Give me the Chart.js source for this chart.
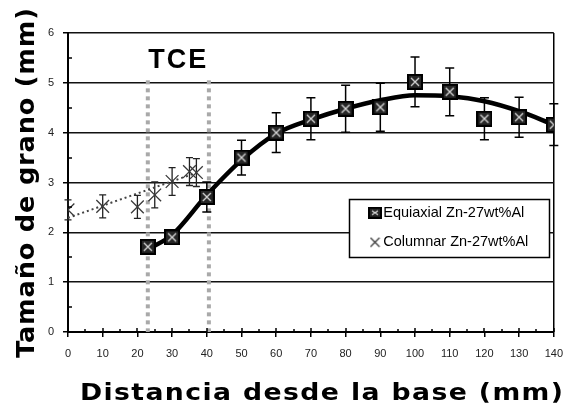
<!DOCTYPE html>
<html><head><meta charset="utf-8">
<script src="https://cdn.jsdelivr.net/npm/chart.js@4/dist/chart.umd.min.js"></script>
<style>html,body{margin:0;padding:0;background:#fff}#wrap{width:573px;height:408px}</style>
</head><body><div id="wrap"><canvas id="c" width="573" height="408"></canvas></div>
<script>
// ---- data ----
const equiX   = [23, 30, 40, 50, 60, 70, 80, 90, 100, 110, 120, 130, 140];
const equiY   = [1.71, 1.90, 2.71, 3.50, 4.00, 4.28, 4.48, 4.51, 5.02, 4.82, 4.28, 4.31, 4.16];
const equiErr = [0.10, 0.10, 0.30, 0.35, 0.40, 0.42, 0.47, 0.48, 0.50, 0.48, 0.42, 0.40, 0.42];
const colX    = [0, 10, 20, 25, 30, 35, 37];
const colY    = [2.45, 2.52, 2.51, 2.75, 3.02, 3.22, 3.20];
const colErr  = [0.20, 0.23, 0.23, 0.26, 0.28, 0.28, 0.28];
const equiTrendX = [23, 30, 40, 50, 60, 70, 80, 90, 100, 110, 120, 130, 140];
const equiTrendY = [1.66, 1.95, 2.75, 3.45, 3.98, 4.26, 4.48, 4.65, 4.75, 4.73, 4.63, 4.43, 4.16];
const colTrendX = [0, 38];
const colTrendY = [2.29, 3.22];
const tceX = [23, 40.6];
const xTicks = [0, 10, 20, 30, 40, 50, 60, 70, 80, 90, 100, 110, 120, 130, 140];
const xMinor = [5, 15, 25, 35, 45, 55, 65, 75, 85, 95, 105, 115, 125, 135];
const yTicks = [0, 1, 2, 3, 4, 5, 6];
const yMinor = [0.5, 1.5, 2.5, 3.5, 4.5, 5.5];
const labels = ['Equiaxial Zn-27wt%Al', 'Columnar Zn-27wt%Al'];
const xTitle = 'Distancia desde la base (mm)';
const yTitle = 'Tamaño de grano (mm)';
const tceLabel = 'TCE';

const pts = (xs, ys) => xs.map((x, i) => ({x: x, y: ys[i]}));

function equiMarker(w, h) {
  const c = document.createElement('canvas'); c.width = w; c.height = h;
  const g = c.getContext('2d');
  g.fillStyle = '#000'; g.fillRect(0, 0, w, h);
  g.fillStyle = '#262626'; g.fillRect(2, 2, w - 4, h - 4);
  g.strokeStyle = '#d8d8d8'; g.lineWidth = 1.3;
  g.beginPath(); g.moveTo(4, 4); g.lineTo(w - 4, h - 4); g.moveTo(w - 4, 4); g.lineTo(4, h - 4); g.stroke();
  return c;
}
function colMarker(s) {
  const c = document.createElement('canvas'); c.width = s; c.height = s;
  const g = c.getContext('2d');
  g.strokeStyle = '#333'; g.lineWidth = 1.2;
  g.beginPath(); g.moveTo(1, 1); g.lineTo(s - 1, s - 1); g.moveTo(s - 1, 1); g.lineTo(1, s - 1); g.stroke();
  return c;
}
const equiImg = equiMarker(16, 16);
const equiLegImg = equiMarker(14, 12);
const colLegImg = colMarker(11);

// draws a heavy title stretched to a target length
function wideText(ctx, text, cx, cy, rot, size, spacing, target) {
  ctx.save();
  ctx.font = 'bold ' + size + 'px "DejaVu Sans", sans-serif';
  ctx.letterSpacing = spacing + 'px';
  ctx.textAlign = 'center'; ctx.textBaseline = 'alphabetic';
  const w = ctx.measureText(text).width - spacing;
  ctx.translate(cx, cy); ctx.rotate(rot);
  ctx.scale(target / w, 1);
  ctx.fillText(text, spacing / 2, 0);
  ctx.restore();
}

const decor = {
  id: 'decor',
  afterLayout(chart) {
    const lg = chart.legend;
    if (!lg) return;
    lg.left = 359; lg.top = 190.5; lg.right = 550; lg.bottom = 300;
    lg.width = lg.right - lg.left; lg.height = lg.bottom - lg.top;
    if (!lg._patched) {
      const orig = lg.draw.bind(lg);
      lg.draw = function (area) {
        const ctx = chart.ctx;
        ctx.save();
        ctx.fillStyle = '#fff'; ctx.fillRect(349, 199, 201, 59);
        ctx.strokeStyle = '#000'; ctx.lineWidth = 1.5; ctx.strokeRect(349.5, 199.5, 200, 58);
        ctx.restore();
        orig(area);
      };
      lg._patched = true;
    }
  },
  beforeDatasetsDraw(chart) {
    const {ctx, scales: {x, y}} = chart;
    ctx.save();
    // TCE dotted lines
    ctx.strokeStyle = '#a9a9a9'; ctx.lineWidth = 4; ctx.setLineDash([4, 4]);
    tceX.forEach(v => {
      const px = x.getPixelForValue(v);
      ctx.beginPath(); ctx.moveTo(px, y.getPixelForValue(5.05)); ctx.lineTo(px, y.getPixelForValue(0)); ctx.stroke();
    });
    ctx.setLineDash([]);
    // error bars
    const bars = (xs, ys, es, cap, col, lw) => {
      ctx.strokeStyle = col; ctx.lineWidth = lw;
      xs.forEach((v, i) => {
        const px = x.getPixelForValue(v);
        const t = y.getPixelForValue(ys[i] + es[i]), b = y.getPixelForValue(ys[i] - es[i]);
        ctx.beginPath();
        ctx.moveTo(px, t); ctx.lineTo(px, b);
        ctx.moveTo(px - cap, t); ctx.lineTo(px + cap, t);
        ctx.moveTo(px - cap, b); ctx.lineTo(px + cap, b);
        ctx.stroke();
      });
    };
    bars(equiX, equiY, equiErr, 4.5, '#000', 1.5);
    bars(colX, colY, colErr, 3.5, '#222', 1.3);
    ctx.restore();
  },
  afterDraw(chart) {
    const {ctx, scales: {x, y}} = chart;
    ctx.save();
    // inner major/minor ticks
    ctx.strokeStyle = '#000'; ctx.lineWidth = 1.5;
    const ax = y.getPixelForValue(0);
    const ay = x.getPixelForValue(0);
    ctx.beginPath();
    xTicks.forEach(v => { const p = Math.round(x.getPixelForValue(v)); ctx.moveTo(p, ax); ctx.lineTo(p, ax - 4); });
    xMinor.forEach(v => { const p = Math.round(x.getPixelForValue(v)); ctx.moveTo(p, ax); ctx.lineTo(p, ax - 3); });
    yMinor.forEach(v => { const p = Math.round(y.getPixelForValue(v)); ctx.moveTo(ay, p); ctx.lineTo(ay + 4, p); });
    ctx.stroke();
    // TCE label
    ctx.fillStyle = '#000';
    ctx.font = 'bold 27px "Liberation Sans", Arial, sans-serif';
    ctx.letterSpacing = '2px';
    ctx.textAlign = 'center'; ctx.textBaseline = 'alphabetic';
    ctx.fillText(tceLabel, x.getPixelForValue((tceX[0] + tceX[1]) / 2), 68);
    ctx.restore();
    // axis titles
    ctx.save();
    ctx.fillStyle = '#000';
    wideText(ctx, xTitle, 321.5, 400, 0, 23, 1.2, 483);
    wideText(ctx, yTitle, 34, 183, -Math.PI / 2, 24, 0.8, 350);
    ctx.restore();
  }
};

new Chart(document.getElementById('c'), {
  type: 'scatter',
  plugins: [decor],
  data: {
    datasets: [
      {label: labels[0], data: pts(equiX, equiY), pointStyle: equiImg, pointRadius: 8, showLine: false,
       backgroundColor: '#000', borderColor: '#000'},
      {label: labels[1], data: pts(colX, colY), pointStyle: 'crossRot', pointRadius: 9, pointBorderWidth: 1.3,
       showLine: false, borderColor: '#3a3a3a', backgroundColor: '#3a3a3a'},
      {label: '', data: pts(equiTrendX, equiTrendY), showLine: true, pointRadius: 0, borderColor: '#000',
       borderWidth: 4.5, cubicInterpolationMode: 'monotone', fill: false},
      {label: '', data: pts(colTrendX, colTrendY), showLine: true, pointRadius: 0, borderColor: '#444',
       borderWidth: 2, borderDash: [2, 3], fill: false}
    ]
  },
  options: {
    responsive: false, animation: false, devicePixelRatio: 1,
    layout: {padding: {left: 0, right: 11, top: 33, bottom: 0}},
    plugins: {
      tooltip: {enabled: false},
      legend: {
        position: 'chartArea', align: 'start',
        labels: {
          usePointStyle: true, pointStyleWidth: 2, boxHeight: 10, padding: 15,
          color: '#000', font: {family: '"Liberation Sans", Arial, sans-serif', size: 14.5},
          filter: item => item.text !== '',
          generateLabels(chart) {
            const items = Chart.defaults.plugins.legend.labels.generateLabels(chart);
            items.forEach(it => { it.pointStyle = it.datasetIndex === 0 ? equiLegImg : colLegImg; });
            return items;
          }
        }
      }
    },
    scales: {
      x: {
        type: 'linear', min: 0, max: 140,
        afterBuildTicks: s => { s.ticks = xTicks.map(v => ({value: v})); },
        afterFit: s => { s.height = 76; },
        ticks: {color: '#222', font: {family: '"Liberation Sans", Arial, sans-serif', size: 11}, padding: 10,
                maxRotation: 0, autoSkip: false},
        grid: {drawOnChartArea: true, color: c => (c.tick && c.tick.value === 140) ? '#000' : 'rgba(0,0,0,0)',
               lineWidth: 1.5, tickColor: '#000', tickLength: 5, tickWidth: 1.5},
        border: {color: '#000', width: 2}
      },
      y: {
        type: 'linear', min: 0, max: 6,
        afterBuildTicks: s => { s.ticks = yTicks.map(v => ({value: v})); },
        afterFit: s => { s.width = 68; },
        ticks: {color: '#222', font: {family: '"Liberation Sans", Arial, sans-serif', size: 11}, padding: 9},
        grid: {color: '#111', lineWidth: 1.5, tickColor: '#000', tickLength: 5, tickWidth: 1.5},
        border: {color: '#000', width: 2}
      }
    }
  }
});
</script></body></html>
